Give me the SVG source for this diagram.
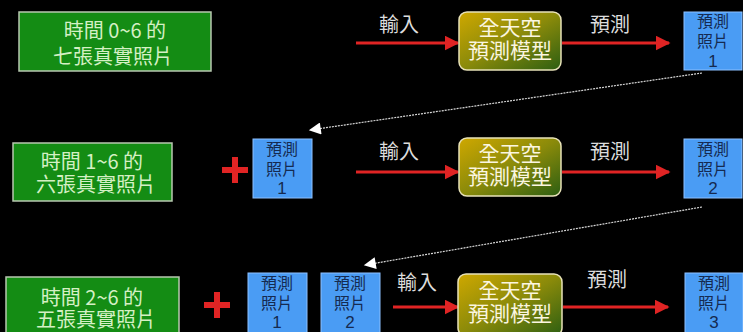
<svg xmlns="http://www.w3.org/2000/svg" width="743" height="332" viewBox="0 0 743 332">
<defs>
<linearGradient id="mg" x1="0" y1="0" x2="1" y2="1">
<stop offset="0" stop-color="#cfa800"/>
<stop offset="0.5" stop-color="#8a8a0a"/>
<stop offset="1" stop-color="#2c5e12"/>
</linearGradient>
<marker id="ar" viewBox="0 0 10 10" refX="9" refY="5" markerWidth="5" markerHeight="5" markerUnits="strokeWidth" orient="auto">
<path d="M0,0 L10,5 L0,10 z" fill="#e02424"/>
</marker>
<marker id="aw" viewBox="0 0 10 10" refX="9" refY="5" markerWidth="14" markerHeight="12" markerUnits="userSpaceOnUse" orient="auto">
<path d="M0,0 L10,5 L0,10 z" fill="#ffffff"/>
</marker>
</defs>
<style>
text{font-family:"Noto Sans CJK TC","Noto Sans CJK SC","Liberation Sans",sans-serif;text-anchor:middle}
.g rect{fill:#148c14;stroke:#b8c8b0;stroke-width:1.5}
.g text{fill:#d4f0c4;font-size:20px}
.m rect{fill:url(#mg);stroke:#e8e2b8;stroke-width:1.5}
.m text{fill:#fbf6e0;font-size:21px}
.p rect{fill:#4a9cf4;stroke:#8cc0ff;stroke-width:1}
.p text{fill:#152a50;font-size:16px}
.p text.n{font-family:"Liberation Sans",sans-serif;font-size:17px}
.lb{fill:#dcdcdc;font-size:20px}
.ra{stroke:#e02424;stroke-width:3;fill:none;marker-end:url(#ar)}
.da{stroke:#d8d8d8;stroke-width:1.2;stroke-dasharray:2 1;fill:none;marker-end:url(#aw)}
.plus{stroke:#e02424;stroke-width:6;fill:none}
</style>
<rect width="743" height="332" fill="#000"/>

<g id="connectors">
<line class="ra" x1="356" y1="43" x2="458" y2="43"/>
<line class="ra" x1="562" y1="43" x2="669" y2="43"/>
<line class="ra" x1="356" y1="172" x2="458" y2="172"/>
<line class="ra" x1="562" y1="172" x2="669" y2="172"/>
<line class="ra" x1="393" y1="307" x2="458" y2="307"/>
<line class="ra" x1="563" y1="307" x2="668" y2="307"/>
<line class="da" x1="702" y1="73" x2="310" y2="130"/>
<line class="da" x1="702" y1="207" x2="365" y2="265"/>
<text class="lb" x="399" y="32">輸入</text>
<text class="lb" x="610" y="32">預測</text>
<text class="lb" x="399" y="159">輸入</text>
<text class="lb" x="610" y="159">預測</text>
<text class="lb" x="417" y="290">輸入</text>
<text class="lb" x="607" y="287">預測</text>
</g>

<g id="real1" class="g">
<rect x="19" y="12" width="192" height="59"/>
<text x="115" y="38">時間 0~6 的</text>
<text x="113" y="64">七張真實照片</text>
</g>
<g id="real2" class="g">
<rect x="13" y="143" width="159" height="58"/>
<text x="92" y="169">時間 1~6 的</text>
<text x="96" y="192">六張真實照片</text>
</g>
<g id="real3" class="g">
<rect x="6" y="277" width="173" height="60"/>
<text x="92" y="305">時間 2~6 的</text>
<text x="96" y="327">五張真實照片</text>
</g>

<g id="plus2"><path class="plus" d="M222,170 H248 M235,157 V183"/></g>
<g id="plus3"><path class="plus" d="M204,305 H230 M217,292 V318"/></g>

<g id="model1" class="m">
<rect x="459" y="12" width="102" height="58" rx="8"/>
<text x="510" y="35">全天空</text>
<text x="510" y="58">預測模型</text>
</g>
<g id="model2" class="m">
<rect x="459" y="138" width="102" height="58" rx="8"/>
<text x="510" y="161">全天空</text>
<text x="510" y="184">預測模型</text>
</g>
<g id="model3" class="m">
<rect x="458" y="274" width="104" height="62" rx="8"/>
<text x="510" y="298">全天空</text>
<text x="510" y="321">預測模型</text>
</g>

<g id="pred1" class="p">
<rect x="684" y="12" width="58" height="58"/>
<text x="713" y="27">預測</text>
<text x="713" y="47">照片</text>
<text class="n" x="713" y="67">1</text>
</g>
<g id="pred2" class="p">
<rect x="684" y="139" width="58" height="59"/>
<text x="713" y="155">預測</text>
<text x="713" y="175">照片</text>
<text class="n" x="713" y="194">2</text>
</g>
<g id="pred1b" class="p">
<rect x="253" y="139" width="59" height="59"/>
<text x="282" y="155">預測</text>
<text x="282" y="175">照片</text>
<text class="n" x="282" y="194">1</text>
</g>
<g id="pred1c" class="p">
<rect x="248" y="273" width="59" height="62"/>
<text x="277" y="289">預測</text>
<text x="277" y="309">照片</text>
<text class="n" x="277" y="328">1</text>
</g>
<g id="pred2c" class="p">
<rect x="321" y="273" width="59" height="62"/>
<text x="350" y="289">預測</text>
<text x="350" y="309">照片</text>
<text class="n" x="350" y="328">2</text>
</g>
<g id="pred3" class="p">
<rect x="685" y="273" width="58" height="62"/>
<text x="714" y="289">預測</text>
<text x="714" y="309">照片</text>
<text class="n" x="714" y="328">3</text>
</g>
</svg>
